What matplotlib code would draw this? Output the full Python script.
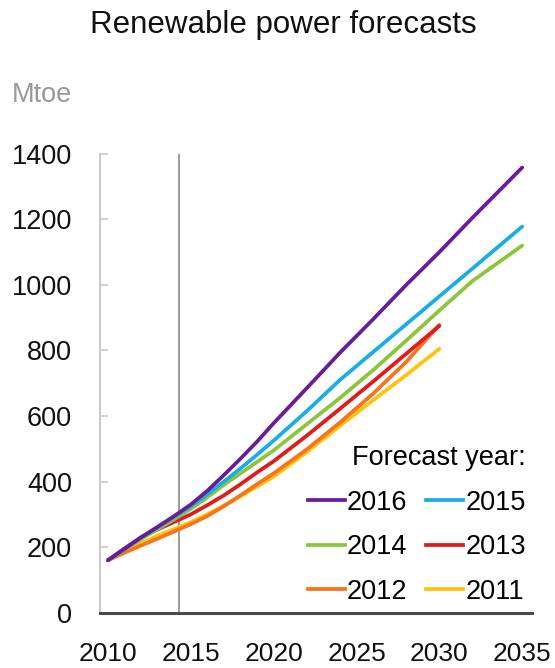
import matplotlib
matplotlib.use("Agg")
import matplotlib.pyplot as plt
from matplotlib.lines import Line2D

plt.rcParams['font.family'] = ['Liberation Sans', 'DejaVu Sans']

# Forecast trajectories (Mtoe) by forecast vintage
years_long = [2010, 2011, 2012, 2013, 2014, 2015, 2016, 2017, 2018, 2019, 2020,
              2022, 2024, 2026, 2028, 2030, 2032, 2035]
years_short = [2010, 2011, 2012, 2013, 2014, 2015, 2016, 2017, 2018, 2019, 2020,
               2022, 2024, 2026, 2028, 2030]

f2016 = [160, 195, 230, 262, 295, 330, 372, 420, 470, 522, 578,
         685, 793, 895, 1000, 1100, 1205, 1358]
f2015 = [160, 195, 228, 260, 292, 325, 362, 400, 440, 482, 525,
         615, 710, 795, 880, 965, 1050, 1178]
f2014 = [160, 193, 225, 255, 285, 317, 352, 390, 425, 460, 495,
         575, 655, 740, 830, 922, 1012, 1120]
f2013 = [160, 196, 230, 254, 277, 300, 328, 358, 392, 428, 462,
         540, 622, 705, 790, 875]
f2012 = [160, 183, 205, 226, 248, 270, 295, 325, 358, 392, 425,
         498, 580, 668, 765, 878]
f2011 = [160, 188, 212, 235, 255, 276, 300, 327, 355, 385, 415,
         490, 570, 648, 725, 805]

series_labels = ['2016', '2015', '2014', '2013', '2012', '2011']
series_colors = ['#6a1b9a', '#19ade6', '#8cc43c', '#e01b1b', '#f8731c', '#ffc20e']
series_years = [years_long, years_long, years_long, years_short, years_short, years_short]
series_values = [f2016, f2015, f2014, f2013, f2012, f2011]

marker_year = 2014.3
x_ticks = [2010, 2015, 2020, 2025, 2030, 2035]
y_ticks = [0, 200, 400, 600, 800, 1000, 1200, 1400]

fig = plt.figure(figsize=(5.55, 6.68), dpi=100)
ax = fig.add_axes([0.1802, 0.0828, 0.778, 0.687])

ax.axvline(marker_year, color='#8a8a8a', lw=1.2, zorder=1)

# draw oldest vintages first so newer ones sit on top
for yrs, vals, col in reversed(list(zip(series_years, series_values, series_colors))):
    ax.plot(yrs, vals, color=col, lw=2.7, solid_capstyle='round',
            solid_joinstyle='round', zorder=3)

ax.set_xlim(2009.52, 2035.58)
ax.set_ylim(0, 1400)
ax.set_xticks(x_ticks)
ax.set_yticks(y_ticks)
ax.tick_params(axis='y', direction='in', length=6, width=1.2, color='#c8c8c8',
               labelsize=19.5, pad=20, labelcolor='#111111')
ax.tick_params(axis='x', length=0, labelsize=19, pad=21, labelcolor='#111111')

for s in ['top', 'right']:
    ax.spines[s].set_visible(False)
ax.spines['left'].set_color('#c8c8c8')
ax.spines['left'].set_linewidth(1.4)
ax.spines['bottom'].set_color('#4a4a4a')
ax.spines['bottom'].set_linewidth(2.2)

fig.text(0.51, 0.963, 'Renewable power forecasts', ha='center', va='center',
         fontsize=22.5, color='#111111')
fig.text(0.022, 0.858, 'Mtoe', ha='left', va='center', fontsize=19.5, color='#999999')

# legend in two columns, filled row by row
order = [0, 2, 4, 1, 3, 5]
handles = [Line2D([0], [0], color=series_colors[i], lw=2.7) for i in order]
labels = [series_labels[i] for i in order]
leg = ax.legend(handles, labels, title='Forecast year:', ncol=2, loc='lower right',
                bbox_to_anchor=(1.005, 0.0), frameon=False, fontsize=19.5,
                title_fontsize=19.5, handlelength=1.35, handletextpad=0.08,
                columnspacing=0.7, labelspacing=0.68, borderpad=0.1,
                borderaxespad=0.2, alignment='right')

fig.savefig('out.png', dpi=100)
